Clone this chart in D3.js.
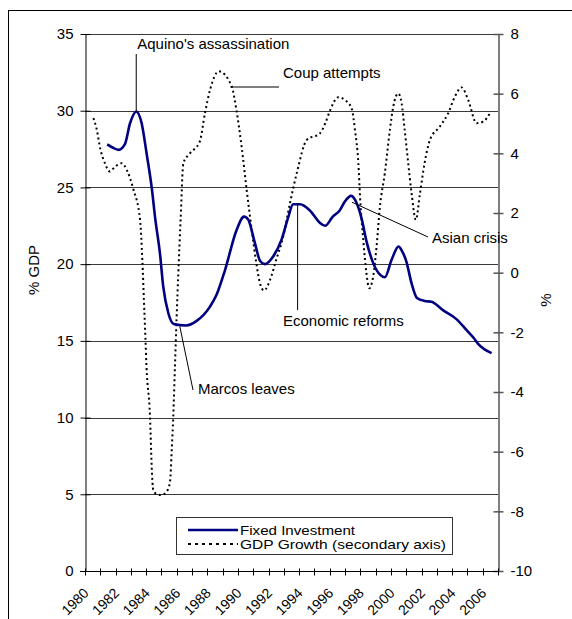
<!DOCTYPE html>
<html><head><meta charset="utf-8">
<script src="https://cdn.jsdelivr.net/npm/d3@7/dist/d3.min.js"></script>
<style>body{margin:0;background:#fff}svg{display:block;font-family:"Liberation Sans",Arial,sans-serif}</style>
</head><body><svg id="c" width="572" height="619"></svg>
<script>
const invYears=[1981.45,1981.8,1982.2,1982.6,1982.95,1983.35,1983.7,1984.03,1984.36,1984.6,1984.9,1985.12,1985.45,1985.8,1986.6,1987.3,1988.15,1988.6,1989.15,1989.9,1990.4,1990.67,1991.1,1991.45,1991.75,1992.3,1992.85,1993.3,1993.6,1994.05,1994.7,1995.35,1995.7,1996.2,1996.65,1997.0,1997.4,1997.65,1998.1,1998.4,1998.85,1999.3,1999.6,2000.05,2000.5,2000.7,2001.0,2001.35,2001.7,2002.2,2002.65,2003.4,2004.3,2004.95,2005.4,2005.7,2006.58];
const invValues=[27.8,27.6,27.45,27.8,29.2,29.95,29.2,27.2,25.0,22.9,20.7,18.5,16.8,16.1,16.0,16.3,17.2,18.0,19.6,22.2,23.1,22.9,21.4,20.2,20.0,20.5,21.6,23.1,23.9,23.9,23.5,22.7,22.5,23.1,23.5,24.1,24.45,24.2,22.9,21.5,20.05,19.3,19.15,20.3,21.15,20.9,20.2,18.75,17.8,17.6,17.55,17.0,16.4,15.7,15.2,14.8,14.2];
const gdpYears=[1980.55,1980.75,1981.0,1981.3,1981.62,1981.96,1982.4,1982.73,1983.16,1983.6,1983.75,1983.85,1983.95,1984.02,1984.25,1984.36,1984.46,1984.68,1985.0,1985.34,1985.56,1985.67,1985.77,1985.88,1985.99,1986.1,1986.25,1986.43,1986.86,1987.5,1987.84,1988.17,1988.75,1989.59,1989.9,1990.24,1990.57,1990.9,1991.2,1991.44,1991.7,1992.1,1992.5,1992.96,1993.4,1993.84,1994.5,1995.36,1995.7,1996.03,1996.56,1996.99,1997.43,1997.65,1997.87,1997.98,1998.19,1998.4,1998.58,1998.84,1999.06,1999.28,1999.6,1999.93,2000.15,2000.48,2000.7,2000.9,2001.13,2001.35,2001.63,2001.9,2002.2,2002.55,2003.2,2003.74,2004.18,2004.62,2005.05,2005.6,2006.03,2006.47];
const gdpValues=[5.18,4.84,4.15,3.67,3.39,3.55,3.67,3.44,2.8,1.77,0.4,-0.9,-2.2,-3.15,-4.83,-6.5,-7.28,-7.42,-7.45,-7.34,-7.0,-5.94,-4.83,-3.15,-1.5,-0.02,1.77,3.67,4.0,4.39,5.34,6.12,6.75,6.24,5.45,4.22,2.77,1.43,0.32,-0.36,-0.6,-0.24,0.43,1.21,2.33,3.33,4.45,4.67,5.0,5.45,5.88,5.79,5.51,4.78,3.67,2.55,1.1,-0.02,-0.52,-0.13,0.87,2.21,3.33,4.78,5.56,6.01,5.68,4.78,3.67,2.66,1.77,2.66,3.67,4.45,4.9,5.34,5.9,6.21,5.79,5.01,5.06,5.34];
const leftTicks=[0,5,10,15,20,25,30,35];
const rightTicks=[-10,-8,-6,-4,-2,0,2,4,6,8];
const yearLabels=[1980,1982,1984,1986,1988,1990,1992,1994,1996,1998,2000,2002,2004,2006];
const seriesNames=["Fixed Investment","GDP Growth (secondary axis)"];
const notes=[
 {text:"Aquino's assassination", year:1983.35, value:29.95},
 {text:"Coup attempts", year:1989.5, value:6.3},
 {text:"Asian crisis", year:1997.45, value:24.3},
 {text:"Economic reforms", year:1993.9, value:23.9},
 {text:"Marcos leaves", year:1986.2, value:16.0}
];

const svg=d3.select("#c");
const L=85,R=498,T=34,B=571;
const x=d3.scaleLinear().domain([1980,2007]).range([L,R]);
const yL=d3.scaleLinear().domain([0,35]).range([B,T]);
const yR=d3.scaleLinear().domain([-10,8]).range([B,T]);

// outer frame
svg.append("rect").attr("x",8.5).attr("y",10.5).attr("width",700).attr("height",700).attr("fill","none").attr("stroke","#000");

// gridlines
svg.append("g").selectAll("line").data(leftTicks.filter(d=>d>0)).join("line")
 .attr("x1",L).attr("x2",R).attr("y1",d=>Math.round(yL(d))+0.5).attr("y2",d=>Math.round(yL(d))+0.5)
 .attr("stroke","#3a3a3a").attr("stroke-width",1);

// left axis
const gl=svg.append("g").attr("transform",`translate(${L+0.5},0)`)
 .call(d3.axisLeft(yL).tickValues(leftTicks).tickSize(0).tickPadding(12).tickFormat(d=>String(d)));
gl.select(".domain").attr("stroke","#000");
gl.selectAll(".tick text").attr("font-size",15).attr("fill","#000").attr("font-family","Liberation Sans, Arial");
gl.selectAll(".tick").append("line").attr("x1",-5).attr("x2",5).attr("stroke","#000");

// right axis
const gr=svg.append("g").attr("transform",`translate(${R+0.5},0)`)
 .call(d3.axisRight(yR).tickValues(rightTicks).tickSize(0).tickPadding(12).tickFormat(d=>String(d)));
gr.select(".domain").attr("stroke","#555").attr("stroke-width",1.5);
gr.selectAll(".tick text").attr("font-size",15).attr("fill","#000").attr("font-family","Liberation Sans, Arial");
gr.selectAll(".tick").append("line").attr("x1",-5).attr("x2",5).attr("stroke","#555").attr("stroke-width",1.5);

// bottom axis
const years=d3.range(1980,2008);
const gb=svg.append("g").attr("transform",`translate(0,${B+0.5})`);
gb.append("line").attr("x1",L-5).attr("x2",R).attr("stroke","#000");
gb.selectAll("line.t").data(years).join("line").attr("class","t")
 .attr("x1",d=>Math.round(x(d))+0.5).attr("x2",d=>Math.round(x(d))+0.5).attr("y1",-3).attr("y2",4).attr("stroke","#000");
gb.selectAll("text").data(yearLabels).join("text")
 .attr("transform",d=>`translate(${x(d)+1},${19}) rotate(-45)`)
 .attr("text-anchor","end").attr("dy","0.35em").attr("font-size",14).text(d=>d);

// axis titles
svg.append("text").attr("transform","translate(39,270) rotate(-90)").attr("text-anchor","middle").attr("font-size",15).text("% GDP");
svg.append("text").attr("transform","translate(551,300) rotate(-90)").attr("text-anchor","middle").attr("font-size",15).text("%");

// lines
const inv=invYears.map((d,i)=>[d,invValues[i]]);
const gdp=gdpYears.map((d,i)=>[d,gdpValues[i]]);
svg.append("path").datum(gdp).attr("fill","none").attr("stroke","#000").attr("stroke-width",2).attr("stroke-dasharray","2 3")
 .attr("d",d3.line().x(d=>x(d[0])).y(d=>yR(d[1])).curve(d3.curveMonotoneX));
svg.append("path").datum(inv).attr("fill","none").attr("stroke","#000080").attr("stroke-width",2.6)
 .attr("d",d3.line().x(d=>x(d[0])).y(d=>yL(d[1])).curve(d3.curveMonotoneX));

// annotations
const ann=svg.append("g").attr("font-size",15).attr("fill","#000");
const lineA=(x1,y1,x2,y2)=>ann.append("line").attr("x1",x1).attr("y1",y1).attr("x2",x2).attr("y2",y2).attr("stroke","#000").attr("stroke-width",1);
let n=notes[0];
lineA(x(n.year),54,x(n.year),yL(n.value));
ann.append("text").attr("x",x(n.year)+1).attr("y",49).text(n.text);
n=notes[1];
lineA(x(n.year),87,279,87);
ann.append("text").attr("x",283).attr("y",78).text(n.text);
n=notes[2];
lineA(x(n.year),yL(n.value)+4,428,237);
ann.append("text").attr("x",432).attr("y",243).text(n.text);
n=notes[3];
lineA(x(n.year),yL(n.value),x(n.year),310);
ann.append("text").attr("x",283).attr("y",326).text(n.text);
n=notes[4];
lineA(x(n.year),yL(n.value)+1,193,390);
ann.append("text").attr("x",198).attr("y",394).text(n.text);

// legend
const lg=svg.append("g");
lg.append("rect").attr("x",176.5).attr("y",517.5).attr("width",276).attr("height",37).attr("fill","#fff").attr("stroke","#333");
lg.append("line").attr("x1",188).attr("x2",238).attr("y1",530).attr("y2",530).attr("stroke","#000080").attr("stroke-width",2.6);
lg.append("line").attr("x1",188).attr("x2",238).attr("y1",544).attr("y2",544).attr("stroke","#000").attr("stroke-width",2).attr("stroke-dasharray","3 4");
lg.append("text").attr("x",240).attr("y",534.5).attr("font-size",13.5).attr("textLength",115).attr("lengthAdjust","spacingAndGlyphs").text(seriesNames[0]);
lg.append("text").attr("x",240).attr("y",549).attr("font-size",13.5).attr("textLength",206).attr("lengthAdjust","spacingAndGlyphs").text(seriesNames[1]);
</script></body></html>
